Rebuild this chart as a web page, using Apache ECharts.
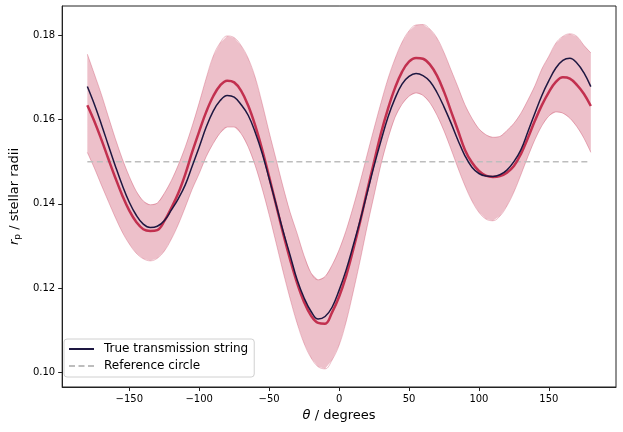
<!DOCTYPE html>
<html>
<head>
<meta charset="utf-8">
<script src="https://cdn.jsdelivr.net/npm/echarts@6/dist/echarts.min.js"></script>
<style>
  html, body { margin: 0; padding: 0; background: #fff; }
  #main { width: 623px; height: 432px; }
</style>
</head>
<body>
<div id="main"></div>
<script>
// angle of each sample, degrees (every 5 deg)
var angles = [-180, -175, -170, -165, -160, -155, -150, -145, -140, -135, -130, -125, -120, -115, -110, -105,
  -100, -95, -90, -85, -80, -75, -70, -65, -60, -55, -50, -45, -40, -35, -30, -25, -20, -15, -10, -5,
  0, 5, 10, 15, 20, 25, 30, 35, 40, 45, 50, 55, 60, 65, 70, 75, 80, 85, 90, 95,
  100, 105, 110, 115, 120, 125, 130, 135, 140, 145, 150, 155, 160, 165, 170, 175, 180];

// true transmission string (navy)
var trueString = [0.1678, 0.1636, 0.1589, 0.1539, 0.1490, 0.1444, 0.1404, 0.1373, 0.1352, 0.1344, 0.1347, 0.1360,
  0.1385, 0.1412, 0.1445, 0.1490, 0.1535, 0.1582, 0.1620, 0.1645, 0.1657, 0.1653, 0.1635, 0.1610, 0.1570, 0.1520,
  0.1460, 0.1398, 0.1335, 0.1278, 0.1220, 0.1177, 0.1145, 0.1127, 0.1133, 0.1155,
  0.1195, 0.1243, 0.1300, 0.1360, 0.1425, 0.1490, 0.1550, 0.1606, 0.1650, 0.1684, 0.1702, 0.1709, 0.1704, 0.1690,
  0.1664, 0.1630, 0.1592, 0.1551, 0.1514, 0.1487, 0.1472, 0.1466, 0.1465, 0.1469, 0.1480, 0.1500, 0.1528, 0.1571,
  0.1615, 0.1657, 0.1692, 0.1722, 0.1740, 0.1745, 0.1734, 0.1711, 0.1678];

// retrieved string, mean (crimson)
var meanString = [0.1634, 0.1596, 0.1553, 0.1507, 0.1462, 0.1420, 0.1384, 0.1357, 0.1340, 0.1336, 0.1338, 0.1359,
  0.1390, 0.1425, 0.1470, 0.1523, 0.1572, 0.1618, 0.1655, 0.1681, 0.1692, 0.1688, 0.1668, 0.1633, 0.1586, 0.1529,
  0.1464, 0.1397, 0.1330, 0.1268, 0.1212, 0.1167, 0.1135, 0.1118, 0.1116, 0.1143,
  0.1180, 0.1229, 0.1290, 0.1357, 0.1430, 0.1499, 0.1568, 0.1626, 0.1675, 0.1713, 0.1737, 0.1746, 0.1744, 0.1730,
  0.1704, 0.1666, 0.1620, 0.1574, 0.1528, 0.1498, 0.1478, 0.1467, 0.1464, 0.1466, 0.1474, 0.1490, 0.1518, 0.1556,
  0.1597, 0.1634, 0.1665, 0.1689, 0.1700, 0.1697, 0.1682, 0.1661, 0.1632];

// uncertainty band edges
var upperBound = [0.1755, 0.1708, 0.1660, 0.1607, 0.1555, 0.1507, 0.1465, 0.1430, 0.1407, 0.1398, 0.1402, 0.1425,
  0.1455, 0.1492, 0.1535, 0.1585, 0.1640, 0.1698, 0.1750, 0.1782, 0.1798, 0.1794, 0.1775, 0.1745, 0.1700, 0.1638,
  0.1570, 0.1505, 0.1440, 0.1380, 0.1330, 0.1277, 0.1236, 0.1220, 0.1228, 0.1255,
  0.1291, 0.1337, 0.1392, 0.1452, 0.1516, 0.1579, 0.1640, 0.1697, 0.1744, 0.1783, 0.1810, 0.1824, 0.1825, 0.1814,
  0.1793, 0.1759, 0.1718, 0.1677, 0.1635, 0.1603, 0.1578, 0.1564, 0.1558, 0.1560, 0.1574, 0.1591, 0.1615, 0.1646,
  0.1680, 0.1720, 0.1750, 0.1781, 0.1797, 0.1803, 0.1797, 0.1776, 0.1758];
var lowerBound = [0.1522, 0.1485, 0.1445, 0.1406, 0.1368, 0.1333, 0.1305, 0.1283, 0.1270, 0.1265, 0.1271, 0.1288,
  0.1316, 0.1351, 0.1392, 0.1435, 0.1472, 0.1512, 0.1543, 0.1568, 0.1582, 0.1582, 0.1566, 0.1535, 0.1491, 0.1436,
  0.1374, 0.1307, 0.1239, 0.1175, 0.1117, 0.1069, 0.1035, 0.1014, 0.1009, 0.1030,
  0.1065, 0.1120, 0.1190, 0.1265, 0.1345, 0.1420, 0.1494, 0.1555, 0.1605, 0.1636, 0.1655, 0.1663, 0.1657, 0.1639,
  0.1610, 0.1573, 0.1530, 0.1485, 0.1443, 0.1407, 0.1380, 0.1364, 0.1360, 0.1371, 0.1395, 0.1428, 0.1469, 0.1512,
  0.1552, 0.1585, 0.1608, 0.1618, 0.1615, 0.1603, 0.1583, 0.1556, 0.1522];

var referenceRadius = 0.15;

var xTicks = [-150, -100, -50, 0, 50, 100, 150];
var yTicks = [0.10, 0.12, 0.14, 0.16, 0.18];

var font = 'DejaVu Sans';
var navy = '#1d1741';
var crimson = '#c2304f';
var bandFill = 'rgba(194, 48, 79, 0.3)';
var smoothness = 0.4;

function pairs(ys) {
  return angles.map(function (a, i) { return [a, ys[i]]; });
}

var myChart = echarts.init(document.getElementById('main'));

var option = {
  animation: false,
  backgroundColor: '#fff',
  grid: {
    left: 58, right: 7, top: 6, bottom: 45,
    z: 5,
    show: true, borderColor: '#222', borderWidth: 1, backgroundColor: 'transparent'
  },
  legend: {
    data: ['True transmission string', 'Reference circle'],
    orient: 'vertical',
    left: 64, top: 339,
    z: 10,
    padding: [4, 6, 5, 4],
    itemWidth: 25, itemHeight: 14, itemGap: 5,
    itemStyle: { opacity: 0 },
    backgroundColor: '#fff',
    borderColor: '#d0d0d0', borderWidth: 1, borderRadius: 3,
    textStyle: { fontFamily: font, fontSize: 12, color: '#000', padding: [0, 0, 0, 5] }
  },
  xAxis: {
    type: 'value',
    min: -198, max: 198,
    z: 5,
    name: '{i|θ} / degrees',
    nameLocation: 'middle',
    nameGap: 21,
    nameTextStyle: {
      fontFamily: font, fontSize: 13, color: '#000',
      rich: { i: { fontFamily: font, fontSize: 13, fontStyle: 'italic', color: '#000' } }
    },
    splitLine: { show: false },
    axisLine: { show: true, onZero: false, lineStyle: { color: '#222', width: 1 } },
    axisTick: { show: true, length: 4, customValues: xTicks, lineStyle: { color: '#222' } },
    axisLabel: {
      customValues: xTicks,
      margin: 7,
      fontFamily: font, fontSize: 10, color: '#000',
      formatter: function (v) { return String(v).replace('-', '\u2212'); }
    }
  },
  yAxis: {
    type: 'value',
    min: 0.0966, max: 0.1869,
    z: 5,
    name: '{i|r}{s|p} / stellar radii',
    nameLocation: 'middle',
    nameRotate: 90,
    nameGap: 38,
    nameTextStyle: {
      fontFamily: font, fontSize: 13, color: '#000',
      rich: {
        i: { fontFamily: font, fontSize: 13, fontStyle: 'italic', color: '#000' },
        s: { fontFamily: font, fontSize: 9, color: '#000', padding: [6, 0, 0, 0] }
      }
    },
    splitLine: { show: false },
    axisLine: { show: true, onZero: false, lineStyle: { color: '#222', width: 1 } },
    axisTick: { show: true, length: 4, customValues: yTicks, lineStyle: { color: '#222' } },
    axisLabel: {
      customValues: yTicks,
      margin: 7,
      fontFamily: font, fontSize: 10, color: '#000',
      formatter: function (v) { return v.toFixed(2); }
    }
  },
  series: [
    {
      // filled band between lower and upper edge
      name: 'band',
      type: 'custom',
      silent: true,
      z: 1,
      data: [[0, referenceRadius]],
      renderItem: function (params, api) {
        var top = angles.map(function (a, i) { return api.coord([a, upperBound[i]]); });
        var bottom = angles.map(function (a, i) { return api.coord([a, lowerBound[i]]); }).reverse();
        return {
          type: 'polygon',
          shape: { points: top.concat(bottom) },
          style: { fill: bandFill, stroke: null }
        };
      }
    },
    {
      name: 'band upper edge',
      type: 'line',
      smooth: smoothness,
      symbol: 'none',
      z: 1,
      lineStyle: { color: bandFill, width: 1 },
      data: pairs(upperBound)
    },
    {
      name: 'band lower edge',
      type: 'line',
      smooth: smoothness,
      symbol: 'none',
      z: 1,
      lineStyle: { color: bandFill, width: 1 },
      data: pairs(lowerBound)
    },
    {
      name: 'Reference circle',
      type: 'line',
      symbol: 'none',
      z: 2,
      color: '#bdbdbd',
      lineStyle: { color: '#bdbdbd', width: 1.5, type: [6, 3.5] },
      data: [[angles[0], referenceRadius], [angles[angles.length - 1], referenceRadius]]
    },
    {
      name: 'Retrieved mean',
      type: 'line',
      smooth: smoothness,
      symbol: 'none',
      z: 3,
      lineStyle: { color: crimson, width: 2.5 },
      data: pairs(meanString)
    },
    {
      name: 'True transmission string',
      type: 'line',
      smooth: smoothness,
      symbol: 'none',
      z: 4,
      color: navy,
      lineStyle: { color: navy, width: 1.5 },
      data: pairs(trueString)
    }
  ]
};

myChart.setOption(option);
</script>
</body>
</html>
